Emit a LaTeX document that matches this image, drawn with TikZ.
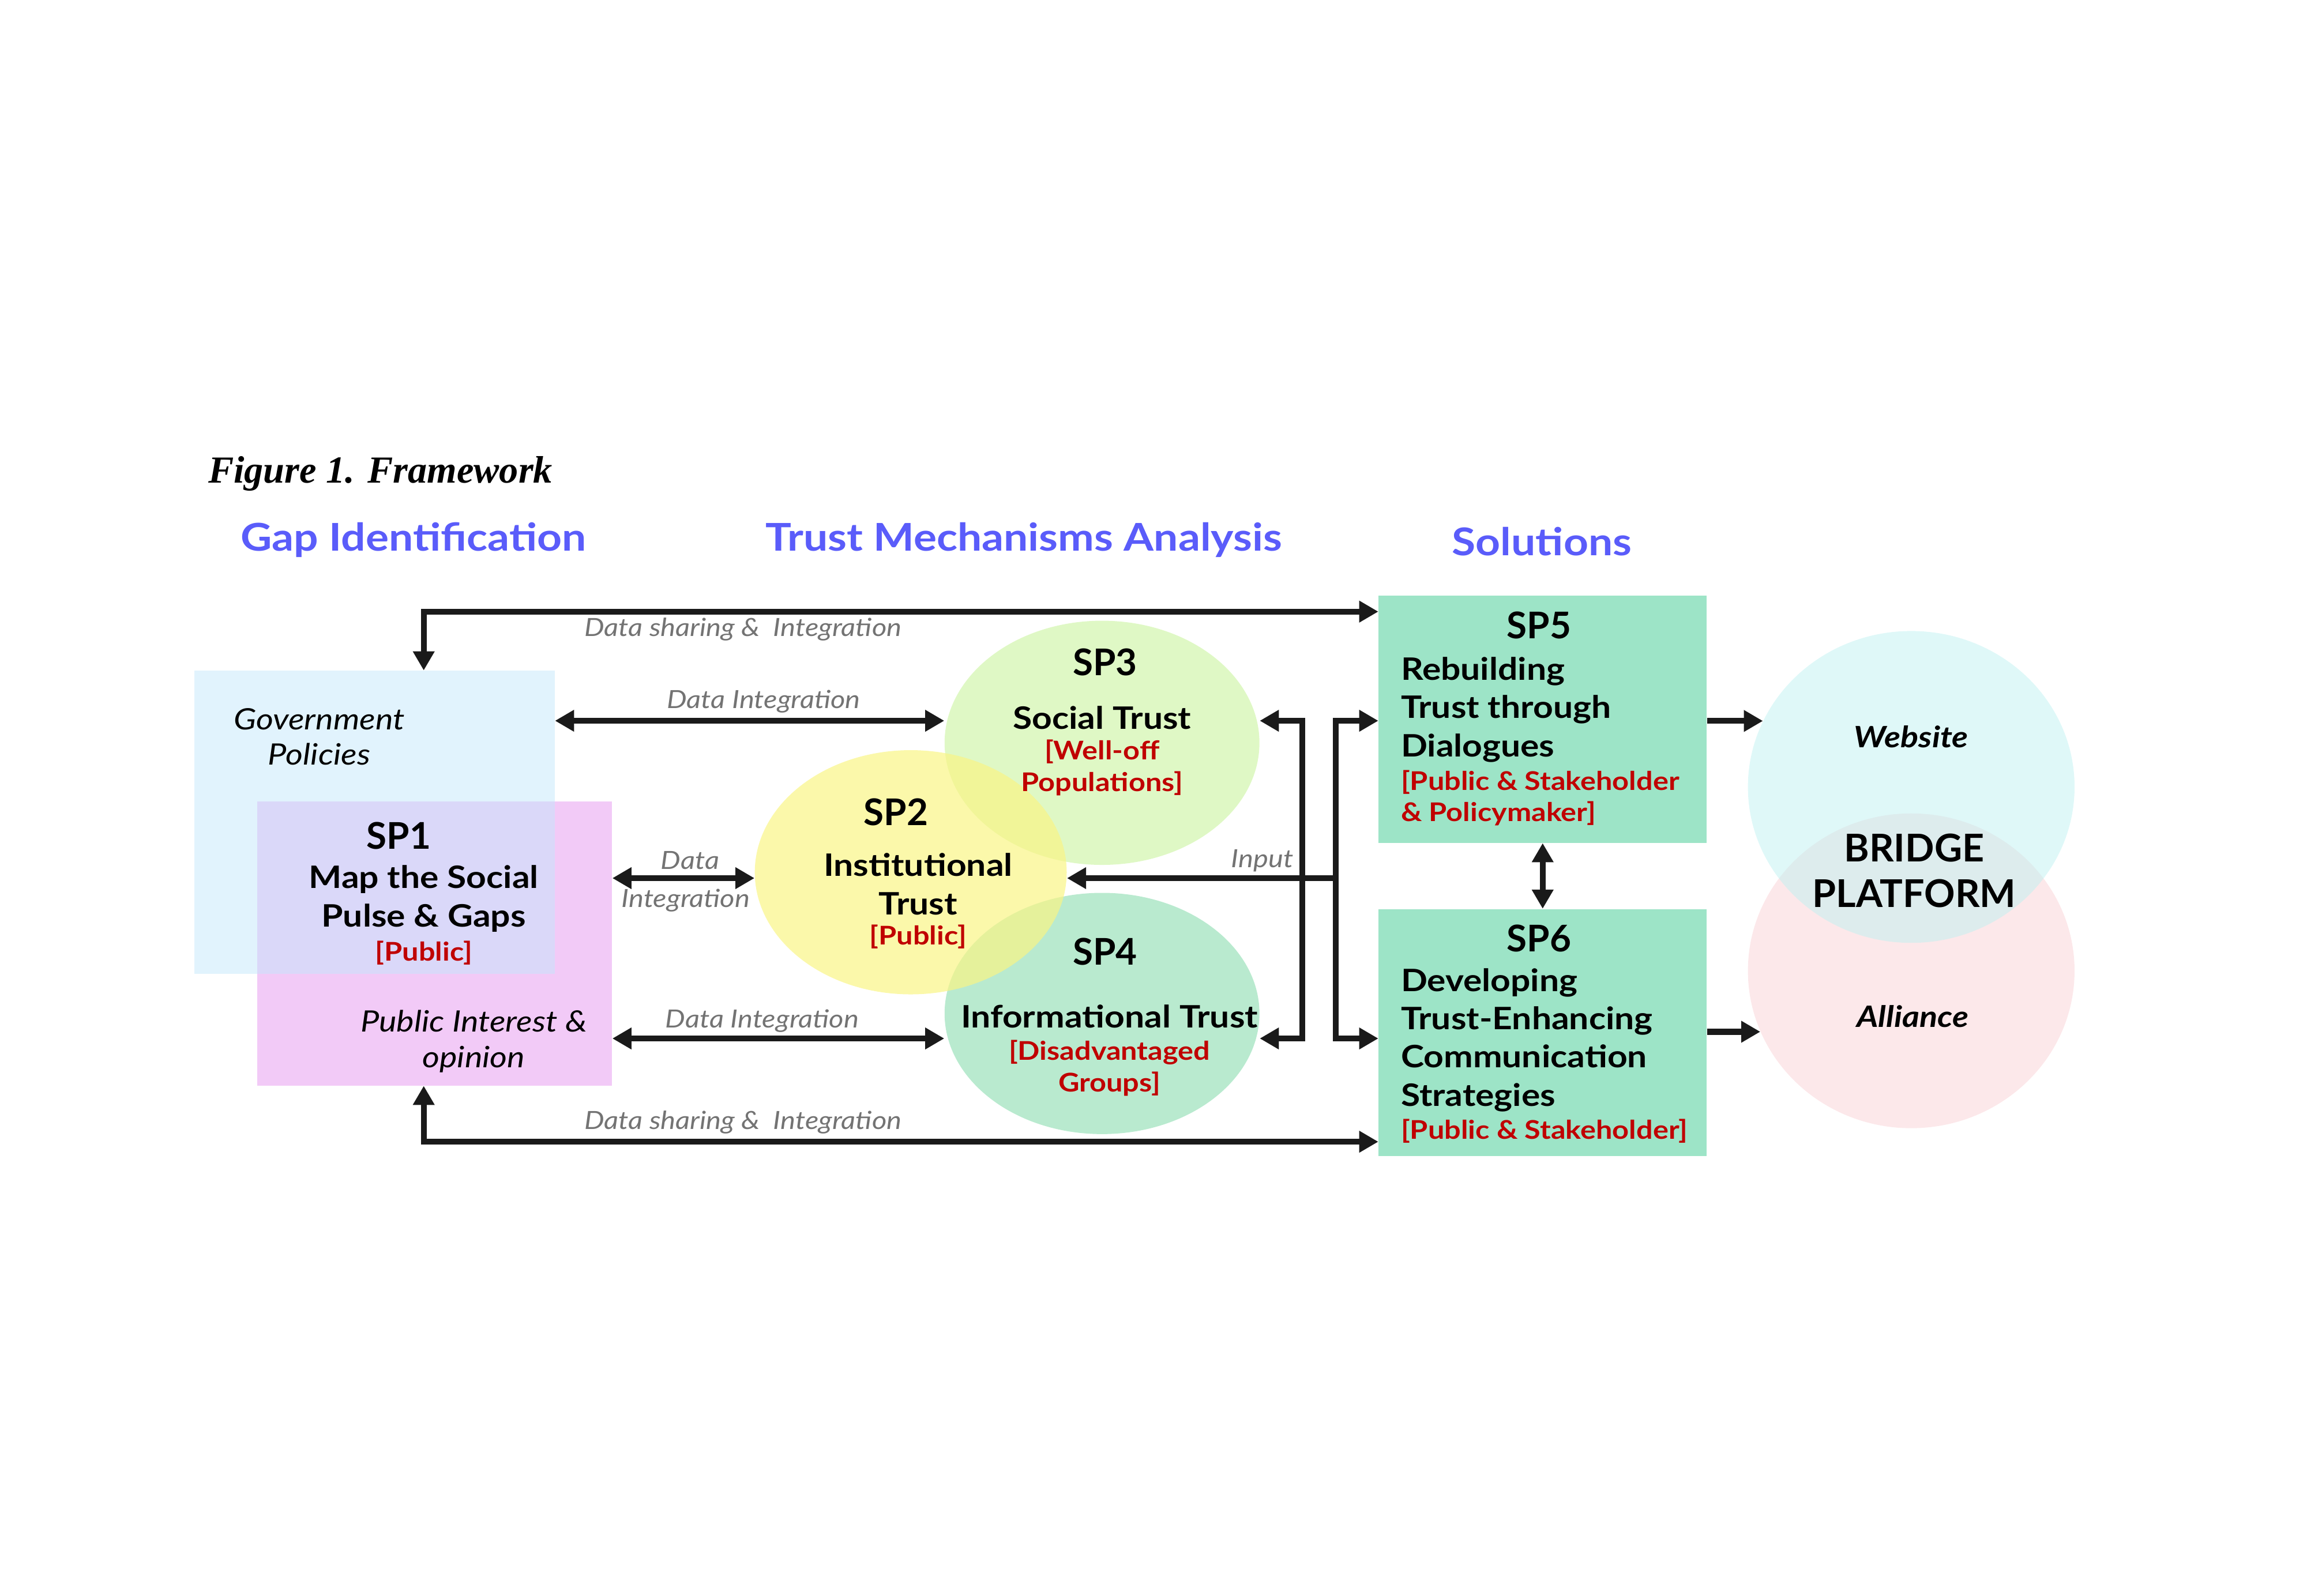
\documentclass[tikz,border=0pt]{standalone}
\usepackage{fontspec}
\setmainfont{Lato}
\newfontfamily\widefont{Lato}[FakeStretch=1.13]
\newfontfamily\figfont{Liberation Serif}
\usetikzlibrary{arrows.meta,shapes.geometric,calc}

\definecolor{headblue}{RGB}{90,92,250}
\definecolor{grpred}{RGB}{192,0,0}
\definecolor{lblgray}{RGB}{115,115,115}
\definecolor{arrowblk}{RGB}{26,26,26}
\definecolor{govblue}{RGB}{195,231,251}
\definecolor{pubpink}{RGB}{242,202,247}
\definecolor{socgreen}{RGB}{223,248,197}
\definecolor{infgreen}{RGB}{185,234,207}
\definecolor{insyellow}{RGB}{249,245,134}
\definecolor{solteal}{RGB}{157,228,199}
\definecolor{webcyan}{RGB}{191,241,241}
\definecolor{allpink}{RGB}{252,232,234}

\tikzset{
  >={Triangle[length=13pt,width=14pt]},
  flow/.style={line width=4pt, draw=arrowblk},
  areabox/.style={rectangle, inner sep=0pt},
  trustell/.style={ellipse, inner sep=0pt, minimum width=214pt, minimum height=166pt},
  platell/.style={ellipse, inner sep=0pt, minimum width=222pt, minimum height=212pt},
  solbox/.style={rectangle, inner sep=0pt, fill=solteal, minimum width=223pt, minimum height=168pt},
  head/.style={font=\widefont\fontsize{26}{30}\selectfont\bfseries, text=headblue},
  sptitle/.style={font=\fontsize{25}{30}\selectfont\bfseries},
  sptext/.style={font=\widefont\fontsize{21}{26}\selectfont\bfseries, align=center, inner sep=0pt},
  grp/.style={font=\widefont\fontsize{17.5}{21.5}\selectfont\bfseries, text=grpred, align=center, inner sep=0pt},
  areatext/.style={font=\widefont\fontsize{20}{24}\selectfont\itshape, align=center, inner sep=0pt},
  flowlbl/.style={font=\widefont\fontsize{17}{20}\selectfont\itshape, text=lblgray, inner sep=0pt},
  platlbl/.style={font=\widefont\fontsize{20}{24}\selectfont\bfseries\itshape},
}

\begin{document}
\begin{tikzpicture}[x=1pt,y=-1pt]
\useasboundingbox (0,0) rectangle (1568,1085);

% title and column heads
\node[anchor=west, font=\figfont\fontsize{26}{30}\selectfont\bfseries\itshape] (fig) at (138,322) {Figure 1. Framework};
\node[head] (hgap) at (281,367) {Gap Identification};
\node[head] (htrust) at (696,367) {Trust Mechanisms Analysis};
\node[head] (hsol) at (1048,368) {Solutions};

% gap identification areas
\node[areabox, fill=pubpink, minimum width=241pt, minimum height=193pt] (pub) at (295.5,641.5) {};
\node[areabox, fill=govblue, fill opacity=0.5, minimum width=245pt, minimum height=206pt] (gov) at (254.5,559) {};

% trust mechanisms
\node[trustell, fill=socgreen] (sp3) at (749,505) {};
\node[trustell, fill=infgreen, minimum height=164pt] (sp4) at (749,689) {};
\node[trustell, fill=insyellow, fill opacity=0.7, minimum width=212pt] (sp2) at (619,593) {};

% solutions
\node[solbox] (sp5) at (1048.5,489) {};
\node[solbox] (sp6) at (1048.5,702) {};

% bridge platform
\node[platell, fill=allpink, minimum height=214pt] (all) at (1299,660) {};
\node[platell, fill=webcyan, fill opacity=0.5] (web) at (1299,535) {};

% texts
\node[areatext] (govtxt) at (217,501) {Government\\Policies};
\node[sptitle] (sp1t) at (271,568) {SP1};
\node[sptext] (sp1txt) at (288,611) {Map the Social\\Pulse \& Gaps};
\node[grp] (sp1grp) at (288,648) {[Public]};
\node[areatext] (pubtxt) at (322,708) {Public Interest \&\\opinion};

\node[sptitle] (sp2t) at (609,552) {SP2};
\node[sptext] (sp2txt) at (624,601) {Institutional\\Trust};
\node[grp] (sp2grp) at (624,637) {[Public]};

\node[sptitle] (sp3t) at (751,450) {SP3};
\node[sptext] (sp3txt) at (749,488) {Social Trust};
\node[grp] (sp3grp) at (749,522) {[Well-off\\Populations]};

\node[sptitle] (sp4t) at (751,647) {SP4};
\node[sptext] (sp4txt) at (754,691) {Informational Trust};
\node[grp] (sp4grp) at (754,726) {[Disadvantaged\\Groups]};

\node[sptitle] (sp5t) at (1046,425) {SP5};
\node[sptext, anchor=west, align=left] (sp5txt) at (952,482.5) {Rebuilding\\Trust through\\Dialogues};
\node[grp, anchor=west, align=left] (sp5grp) at (952,542.5) {[Public \& Stakeholder\\\& Policymaker]};

\node[sptitle] (sp6t) at (1046,638) {SP6};
\node[sptext, anchor=west, align=left] (sp6txt) at (952,707) {Developing\\Trust-Enhancing\\Communication\\Strategies};
\node[grp, anchor=west] (sp6grp) at (952,769) {[Public \& Stakeholder]};

\node[platlbl] (webtxt) at (1299,501) {Website};
\node[platlbl] (alltxt) at (1300,691) {Alliance};
\node[font=\fontsize{26}{31}\selectfont\bfseries, align=center] (bridge) at (1301,592) {BRIDGE\\PLATFORM};

% connectors
\coordinate (rowA) at (0,490);
\coordinate (rowB) at (0,706);
\coordinate (busl) at (885,597);
\coordinate (busr) at (908,597);

\draw[flow, <->] (gov.north -| sp1txt) |- ($(sp5.north west)+(0,11)$);
\draw[flow, <->] (pub.south -| sp1txt) |- ($(sp6.south west)+(0,-10)$);
\node[flowlbl] (lshare1) at (505,428) {Data sharing \& \ Integration};
\node[flowlbl] (lshare2) at (505,763) {Data sharing \& \ Integration};

\draw[flow, <->] (gov.east |- rowA) -- (sp3.west |- rowA);
\node[flowlbl] (lint1) at (519,477) {Data Integration};
\draw[flow, <->] (pub.east |- busr) -- (sp2.west |- busr);
\node[flowlbl] (lint2a) at (469,585) {Data};
\node[flowlbl] (lint2b) at (466,612) {Integration};
\draw[flow, <->] (pub.east |- rowB) -- (sp4.west |- rowB);
\node[flowlbl] (lint3) at (518,694) {Data Integration};

\draw[flow, <->] (sp3.east |- rowA) -| (busl) |- (sp4.east |- rowB);
\draw[flow, ->] (busr) |- (sp5.west |- rowA);
\draw[flow, ->] (busr) |- (sp6.west |- rowB);
\draw[flow, ->] (busr) -- (sp2.east |- busr);
\node[flowlbl] (linput) at (858,585) {Input};

\draw[flow, <->] (sp5.south) -- (sp6.north);
\draw[flow, ->] (sp5.east |- web.156) -- (web.156);
\draw[flow, ->] (sp6.east |- all.202) -- (all.202);
\end{tikzpicture}
\end{document}
